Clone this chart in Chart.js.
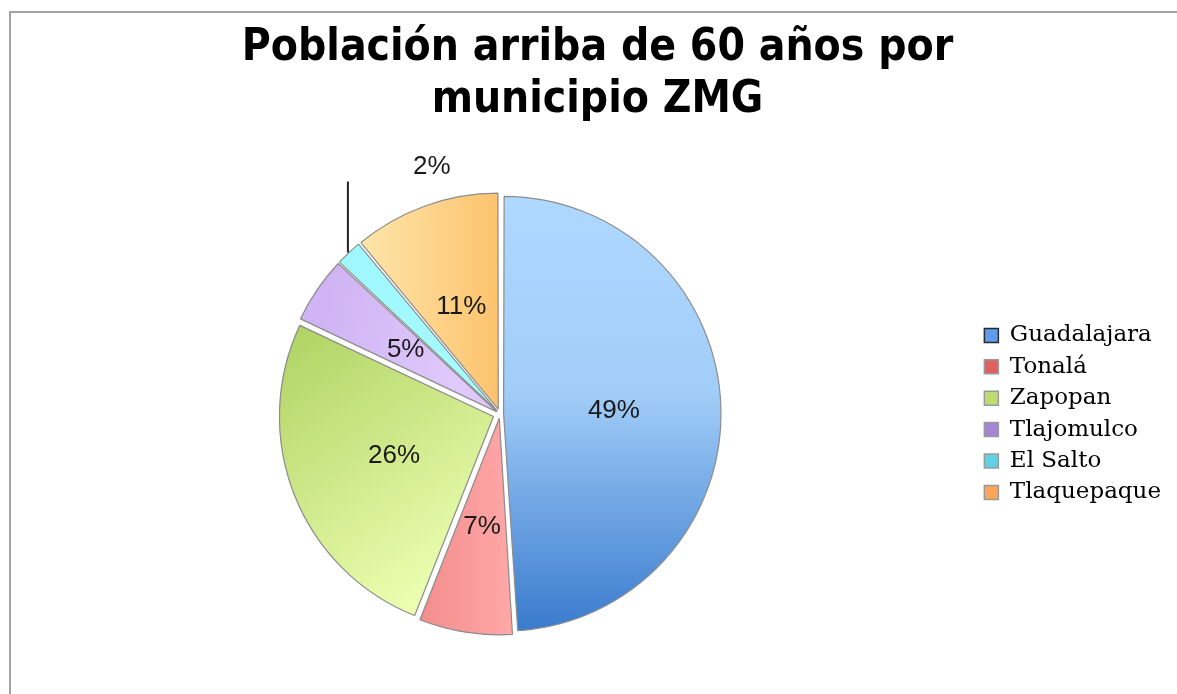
<!DOCTYPE html>
<html><head><meta charset="utf-8">
<script src="https://cdn.jsdelivr.net/npm/chart.js@4.4.0/dist/chart.umd.min.js"></script>
<style>
html,body{margin:0;padding:0;background:#fff;}
#wrap{position:relative;width:1177px;height:694px;overflow:hidden;}
#frame{position:absolute;left:9px;top:11px;width:1200px;height:700px;border-top:2px solid #a3a3a3;border-left:2px solid #a3a3a3;}
canvas{position:absolute;left:0;top:0;}
</style></head><body>
<div id="wrap"><div id="frame"></div><canvas id="c" width="1177" height="694"></canvas></div>
<script>
const categories = ['Guadalajara', 'Tonalá', 'Zapopan', 'Tlajomulco', 'El Salto', 'Tlaquepaque'];
const values = [49, 7, 26, 5, 2, 11];
const valueLabels = ['49%', '7%', '26%', '5%', '2%', '11%'];
const titleLines = ['Población arriba de 60 años por', 'municipio ZMG'];

// styling
const legendFill = ['#5d9de9', '#e0605f', '#bddd73', '#a486d4', '#5fd3e5', '#fba65a'];
const legendStroke = ['#2a2a2a', '#9a9a9a', '#9a9a9a', '#9a9a9a', '#9a9a9a', '#9a9a9a'];
const sliceGrad = [
  {p:[0,-1,0,1], s:[[0,'#aed8ff'],[0.45,'#a2cdf8'],[1,'#3b7cce']]},
  {p:[-0.35,0,0.05,0], s:[[0,'#f48e8e'],[1,'#ffa7a7']]},
  {p:[-0.9,-0.45,-0.1,0.75], s:[[0,'#afd363'],[1,'#eeffb3']]},
  {p:[-0.85,-0.25,-0.2,-0.1], s:[[0,'#d0b4f4'],[1,'#dfc9fc']]},
  {p:[-0.8,-0.8,0,0], s:[[0,'#9ef7fd'],[1,'#a6fbff']]},
  {p:[-0.6,-0.5,0,-0.5], s:[[0,'#fee3a6'],[1,'#fdc36e']]}
];
const R = 214;
const EXPLODE = 7;

function sliceColor(ctx) {
  const chart = ctx.chart;
  const area = chart.chartArea;
  const i = ctx.dataIndex;
  if (!area || i === undefined) return legendFill[i || 0];
  const cx = (area.left + area.right) / 2, cy = (area.top + area.bottom) / 2;
  const g = sliceGrad[i];
  const grad = chart.ctx.createLinearGradient(cx + g.p[0]*R, cy + g.p[1]*R, cx + g.p[2]*R, cy + g.p[3]*R);
  g.s.forEach(st => grad.addColorStop(st[0], st[1]));
  return grad;
}

// Chart.js translates an arc by offset/4*(1+fix); compensate so every slice moves EXPLODE px
function sliceOffset(ctx) {
  const i = ctx.dataIndex;
  if (i === undefined) return 0;
  const total = values.reduce((a, b) => a + b, 0);
  const circ = values[i] / total * Math.PI * 2;
  const fix = 1 - Math.sin(Math.min(Math.PI, circ));
  return 4 * EXPLODE / (1 + fix);
}

const labelPlugin = {
  id: 'sliceLabels',
  afterDatasetsDraw(chart) {
    const c = chart.ctx;
    const meta = chart.getDatasetMeta(0);
    c.save();
    c.fillStyle = '#1a1a1a';
    c.font = '26px "Liberation Sans Narrow", "Liberation Sans", sans-serif';
    c.textAlign = 'center';
    c.textBaseline = 'middle';
    meta.data.forEach((el, i) => {
      const mid = (el.startAngle + el.endAngle) / 2;
      const vx = el.x + Math.cos(mid) * EXPLODE, vy = el.y + Math.sin(mid) * EXPLODE;
      if (i === 4) {
        const a = el.startAngle + 0.46 * (el.endAngle - el.startAngle);
        const px = vx + Math.cos(a) * el.outerRadius, py = vy + Math.sin(a) * el.outerRadius;
        c.strokeStyle = '#222';
        c.lineWidth = 2;
        c.beginPath();
        c.moveTo(px, py - 1);
        c.lineTo(px, py - 72);
        c.stroke();
        c.fillText(valueLabels[i], px + 84, py - 87);
      } else {
        const rr = el.outerRadius / 2;
        c.fillText(valueLabels[i], vx + Math.cos(mid) * rr, vy + Math.sin(mid) * rr);
      }
    });
    c.restore();
  }
};

new Chart(document.getElementById('c'), {
  type: 'pie',
  data: {
    labels: categories,
    datasets: [{
      data: values,
      backgroundColor: sliceColor,
      borderColor: '#8c8c8c',
      borderWidth: 1.2,
      offset: sliceOffset,
      radius: R
    }]
  },
  options: {
    responsive: false,
    animation: false,
    events: [],
    radius: R,
    layout: { padding: { left: 24, right: 6, top: 0, bottom: 4 } },
    plugins: {
      tooltip: { enabled: false },
      title: {
        display: true,
        text: titleLines,
        color: '#000',
        font: { family: '"Liberation Sans Narrow", "DejaVu Sans Condensed", sans-serif', size: 44, weight: 'bold', lineHeight: 1.18 },
        padding: { top: 23, bottom: 11 }
      },
      legend: {
        position: 'right',
        fullSize: false,
        labels: {
          boxWidth: 14,
          boxHeight: 14,
          padding: 8.4,
          color: '#222',
          font: { family: '"DejaVu Serif", serif', size: 23 },
          generateLabels: () => categories.map((t, i) => ({
            text: t, fillStyle: legendFill[i], strokeStyle: legendStroke[i], lineWidth: 1.5, hidden: false, index: i
          }))
        }
      }
    }
  },
  plugins: [labelPlugin]
});
</script>
</body></html>
